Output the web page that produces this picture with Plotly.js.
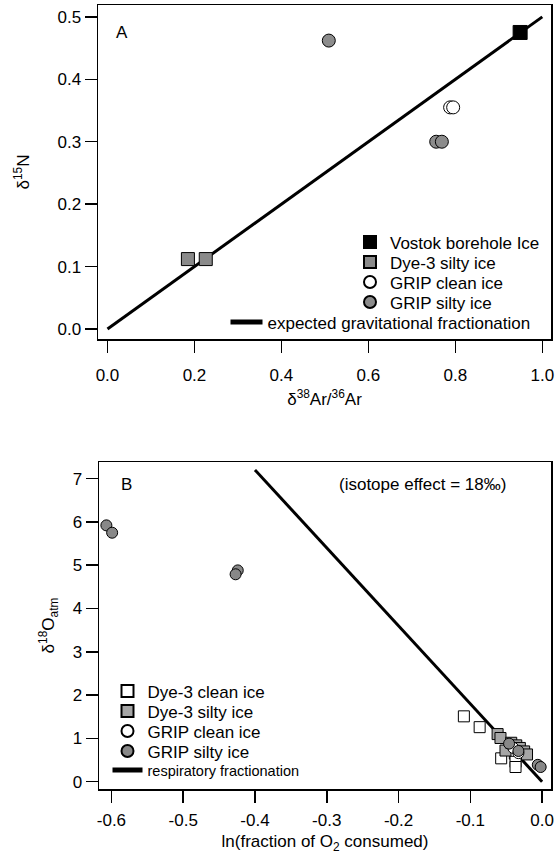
<!DOCTYPE html>
<html><head><meta charset="utf-8">
<script src="https://cdn.plot.ly/plotly-3.0.1.min.js"></script>
<style>html,body{margin:0;padding:0;background:#fff}</style>
</head><body><div id="chart" style="width:558px;height:854px"></div>
<script>
// ---------- Panel A data ----------
const vostokX = [0.949];
const vostokY = [0.475];
const dye3SiltyAX = [0.185, 0.226];
const dye3SiltyAY = [0.112, 0.112];
const gripCleanAX = [0.788, 0.795];
const gripCleanAY = [0.355, 0.355];
const gripSiltyAX = [0.509, 0.756, 0.769];
const gripSiltyAY = [0.462, 0.300, 0.300];
const gravLineX = [0, 1];
const gravLineY = [0, 0.5];
const ticksAX = [0, 0.2, 0.4, 0.6, 0.8, 1.0];
const ticksAXText = ['0.0', '0.2', '0.4', '0.6', '0.8', '1.0'];
const ticksAY = [0, 0.1, 0.2, 0.3, 0.4, 0.5];
const ticksAYText = ['0.0', '0.1', '0.2', '0.3', '0.4', '0.5'];

// ---------- Panel B data ----------
const dye3CleanBX = [-0.109, -0.087, -0.057, -0.038, -0.037, -0.037];
const dye3CleanBY = [1.51, 1.26, 0.54, 0.65, 0.46, 0.34];
const dye3SiltyBX = [-0.062, -0.058, -0.051, -0.043, -0.036, -0.031, -0.025, -0.021];
const dye3SiltyBY = [1.10, 1.01, 0.72, 0.90, 0.84, 0.78, 0.70, 0.63];
const gripCleanBX = [-0.040, -0.033];
const gripCleanBY = [0.78, 0.66];
const gripSiltyBX = [-0.607, -0.599, -0.424, -0.427, -0.046, -0.033, -0.006, -0.002];
const gripSiltyBY = [5.92, 5.75, 4.88, 4.79, 0.88, 0.71, 0.39, 0.34];
const respLineX = [-0.4, 0];
const respLineY = [7.2, 0];
const ticksBX = [-0.6, -0.5, -0.4, -0.3, -0.2, -0.1, 0.0];
const ticksBXText = ['-0.6', '-0.5', '-0.4', '-0.3', '-0.2', '-0.1', '0.0'];
const ticksBY = [0, 1, 2, 3, 4, 5, 6, 7];

const FONT = 'Liberation Sans, Arial, Helvetica, sans-serif';
const FS = 17;
const W = 558, H = 854;
const px = v => v / W;
const py = v => 1 - v / H;

const traces = [
  // Panel A
  {x: gravLineX, y: gravLineY, xaxis: 'x', yaxis: 'y', mode: 'lines', name: 'expected gravitational fractionation',
   line: {color: '#000', width: 3}, legend: 'legend5'},
  {x: vostokX, y: vostokY, xaxis: 'x', yaxis: 'y', mode: 'markers', name: 'Vostok borehole Ice',
   marker: {symbol: 'square', size: 14, color: '#000', line: {color: '#000', width: 1}}, legend: 'legend'},
  {x: dye3SiltyAX, y: dye3SiltyAY, xaxis: 'x', yaxis: 'y', mode: 'markers', name: 'Dye-3 silty ice',
   marker: {symbol: 'square', size: 13, color: '#8a8a8a', line: {color: '#000', width: 1}}, legend: 'legend2'},
  {x: gripCleanAX, y: gripCleanAY, xaxis: 'x', yaxis: 'y', mode: 'markers', name: 'GRIP clean ice',
   marker: {symbol: 'circle', size: 13, color: '#fff', line: {color: '#000', width: 1}}, legend: 'legend3'},
  {x: gripSiltyAX, y: gripSiltyAY, xaxis: 'x', yaxis: 'y', mode: 'markers', name: 'GRIP silty ice',
   marker: {symbol: 'circle', size: 13, color: '#8c8c8c', line: {color: '#000', width: 1}}, legend: 'legend4'},
  // Panel B
  {x: respLineX, y: respLineY, xaxis: 'x2', yaxis: 'y2', mode: 'lines', name: 'respiratory fractionation',
   line: {color: '#000', width: 3}, legend: 'legend10'},
  {x: dye3CleanBX, y: dye3CleanBY, xaxis: 'x2', yaxis: 'y2', mode: 'markers', name: 'Dye-3 clean ice',
   marker: {symbol: 'square', size: 11, color: '#fff', line: {color: '#000', width: 1}}, legend: 'legend6'},
  {x: dye3SiltyBX, y: dye3SiltyBY, xaxis: 'x2', yaxis: 'y2', mode: 'markers', name: 'Dye-3 silty ice',
   marker: {symbol: 'square', size: 11, color: '#a6a6a6', line: {color: '#000', width: 1}}, legend: 'legend7'},
  {x: gripCleanBX, y: gripCleanBY, xaxis: 'x2', yaxis: 'y2', mode: 'markers', name: 'GRIP clean ice',
   marker: {symbol: 'circle', size: 11, color: '#fff', line: {color: '#000', width: 1}}, legend: 'legend8'},
  {x: gripSiltyBX, y: gripSiltyBY, xaxis: 'x2', yaxis: 'y2', mode: 'markers', name: 'GRIP silty ice',
   marker: {symbol: 'circle', size: 11, color: '#888', line: {color: '#000', width: 1}}, legend: 'legend9'}
];

const axisCommon = {
  showline: true, linecolor: '#000', linewidth: 1.5, mirror: true,
  ticks: 'outside', ticklen: 12, tickwidth: 1.5, tickcolor: '#000',
  showgrid: false, zeroline: false, tickfont: {family: FONT, size: FS, color: '#000'},
  tickmode: 'array'
};

// one legend per entry so each row can sit exactly where the reference has it
function leg(xPx, rowY, size, extra) {
  const h = size * 1.3 + 3;
  return Object.assign({
    bgcolor: 'rgba(0,0,0,0)', borderwidth: 0, font: {family: FONT, size: size, color: '#000'},
    xanchor: 'left', yanchor: 'top', itemsizing: 'constant',
    x: px(xPx), y: py(rowY - 5 - h / 2)
  }, extra || {});
}

const layout = {
  width: W, height: H,
  margin: {l: 0, r: 0, t: 0, b: 0},
  paper_bgcolor: '#fff', plot_bgcolor: '#fff',
  font: {family: FONT, size: FS, color: '#000'},
  showlegend: true,
  xaxis: Object.assign({}, axisCommon, {
    domain: [px(98), px(551)], range: [-0.0218, 1.020], anchor: 'y',
    tickvals: ticksAX, ticktext: ticksAXText, ticklabelstandoff: 8,
    title: {text: 'δ<sup>38</sup>Ar/<sup>36</sup>Ar', font: {family: FONT, size: FS, color: '#000'}, standoff: 9}
  }),
  yaxis: Object.assign({}, axisCommon, {
    domain: [py(339), py(5)], range: [-0.016, 0.519], anchor: 'x',
    tickvals: ticksAY, ticktext: ticksAYText,
    title: {text: 'δ<sup>15</sup>N', font: {family: FONT, size: FS, color: '#000'}, standoff: 23}
  }),
  xaxis2: Object.assign({}, axisCommon, {
    domain: [px(99), px(551)], range: [-0.6173, 0.0124], anchor: 'y2',
    tickvals: ticksBX, ticktext: ticksBXText, ticklabelstandoff: 3,
    title: {text: 'ln(fraction of O<sub>2</sub> consumed)', font: {family: FONT, size: FS, color: '#000'}, standoff: 10}
  }),
  yaxis2: Object.assign({}, axisCommon, {
    domain: [py(789), py(462)], range: [-0.168, 7.383], anchor: 'x2',
    tickvals: ticksBY,
    title: {text: 'δ<sup>18</sup>O<sub>atm</sub>', font: {family: FONT, size: FS, color: '#000'}, standoff: 13}
  }),
  legend: leg(350, 242, FS),
  legend2: leg(350, 262, FS),
  legend3: leg(350, 282, FS),
  legend4: leg(350, 302, FS),
  legend5: leg(225.5, 322, FS, {itemwidth: 32}),
  legend6: leg(107.5, 691, FS),
  legend7: leg(107.5, 711, FS),
  legend8: leg(107.5, 731, FS),
  legend9: leg(107.5, 751, FS),
  legend10: leg(107.5, 770, 14.5),
  annotations: [
    {text: 'A', x: px(122), y: py(32), xref: 'paper', yref: 'paper', xanchor: 'center', yanchor: 'middle', showarrow: false, font: {family: FONT, size: FS, color: '#000'}},
    {text: 'B', x: px(126), y: py(485), xref: 'paper', yref: 'paper', xanchor: 'center', yanchor: 'middle', showarrow: false, font: {family: FONT, size: FS, color: '#000'}},
    {text: '(isotope effect = 18‰)', x: px(422), y: py(485), xref: 'paper', yref: 'paper', xanchor: 'center', yanchor: 'middle', showarrow: false, font: {family: FONT, size: FS, color: '#000'}}
  ]
};

Plotly.newPlot('chart', traces, layout, {displayModeBar: false, staticPlot: true});
</script></body></html>
